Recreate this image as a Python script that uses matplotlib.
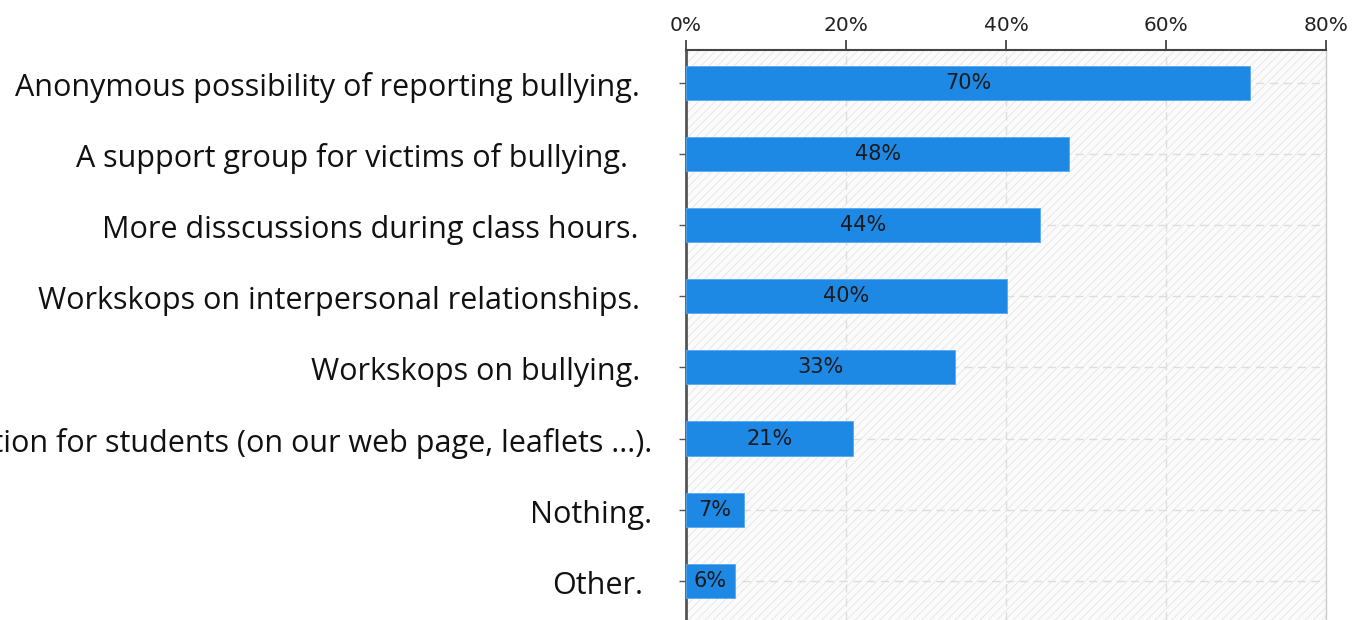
import matplotlib
matplotlib.use("Agg")
import matplotlib.pyplot as plt
import matplotlib.transforms as mtransforms
from matplotlib.patches import Rectangle
from matplotlib.ticker import FuncFormatter

categories = [
    "Anonymous possibility of reporting bullying.",
    "A support group for victims of bullying.",
    "More disscussions during class hours.",
    "Workskops on interpersonal relationships.",
    "Workskops on bullying.",
    "More information for students (on our web page, leaflets ...).",
    "Nothing.",
    "Other.",
]
values = [70.5, 47.9, 44.2, 40.1, 33.6, 20.9, 7.2, 6.1]
value_labels = ["70%", "48%", "44%", "40%", "33%", "21%", "7%", "6%"]
x_ticks = [0, 20, 40, 60, 80]
# small horizontal shifts (pixels) of category labels, as in the original layout
label_shift_px = [0, -12, -2, 0, 0, 12, 12, 3]

plt.rcParams['hatch.linewidth'] = 0.6
fig = plt.figure(figsize=(13.53, 6.20), dpi=100)
ax = fig.add_axes([686/1353, 0.0, (1326-686)/1353, 1 - 50/620])

# hatched background
ax.set_facecolor("#fbfbfb")
bg = Rectangle((0, 0), 1, 1, transform=ax.transAxes, facecolor="none",
               edgecolor="#e4e4e4", hatch="////", linewidth=0, zorder=0)
ax.add_patch(bg)

ypos = list(range(len(categories)))
ax.barh(ypos, values, height=0.48, color="#1e88e5", edgecolor="#5aa9ee",
        linewidth=0.6, zorder=3)
for y, v, lab in zip(ypos, values, value_labels):
    ax.text(v / 2, y, lab, ha="center", va="center", fontsize=15,
            color="#1a1a1a", family="DejaVu Sans", zorder=4)

ax.set_xlim(0, 80)
ax.set_ylim(len(categories) - 0.45, -0.46)
ax.set_xticks(x_ticks)
ax.xaxis.set_major_formatter(FuncFormatter(lambda v, p: f"{v:.0f}%"))
ax.xaxis.tick_top()
ax.tick_params(axis="x", direction="out", length=7, width=1.2, colors="#333333",
               labelsize=14.5, labelcolor="#222222", pad=4)
ax.set_yticks(ypos)
ax.set_yticklabels([])
ax.tick_params(axis="y", direction="out", length=5, width=1, colors="#555555")

base = mtransforms.blended_transform_factory(ax.transAxes, ax.transData)
for y, cat, dx in zip(ypos, categories, label_shift_px):
    tr = base + mtransforms.ScaledTranslation((-46 + dx) / 100, -0.05, fig.dpi_scale_trans)
    ax.text(0, y, cat, transform=tr, ha="right", va="center", fontsize=22,
            family="Open Sans", color="#111111", clip_on=False)

ax.grid(True, axis="both", color="#dddddd", linestyle=(0, (6, 4)), linewidth=1, zorder=1)
ax.set_axisbelow(True)

ax.spines["left"].set_color("#555555")
ax.spines["left"].set_linewidth(2)
ax.spines["top"].set_color("#444444")
ax.spines["top"].set_linewidth(1.5)
ax.spines["right"].set_color("#cccccc")
ax.spines["right"].set_linewidth(1)
ax.spines["bottom"].set_visible(False)

fig.savefig("out.png", dpi=100)
